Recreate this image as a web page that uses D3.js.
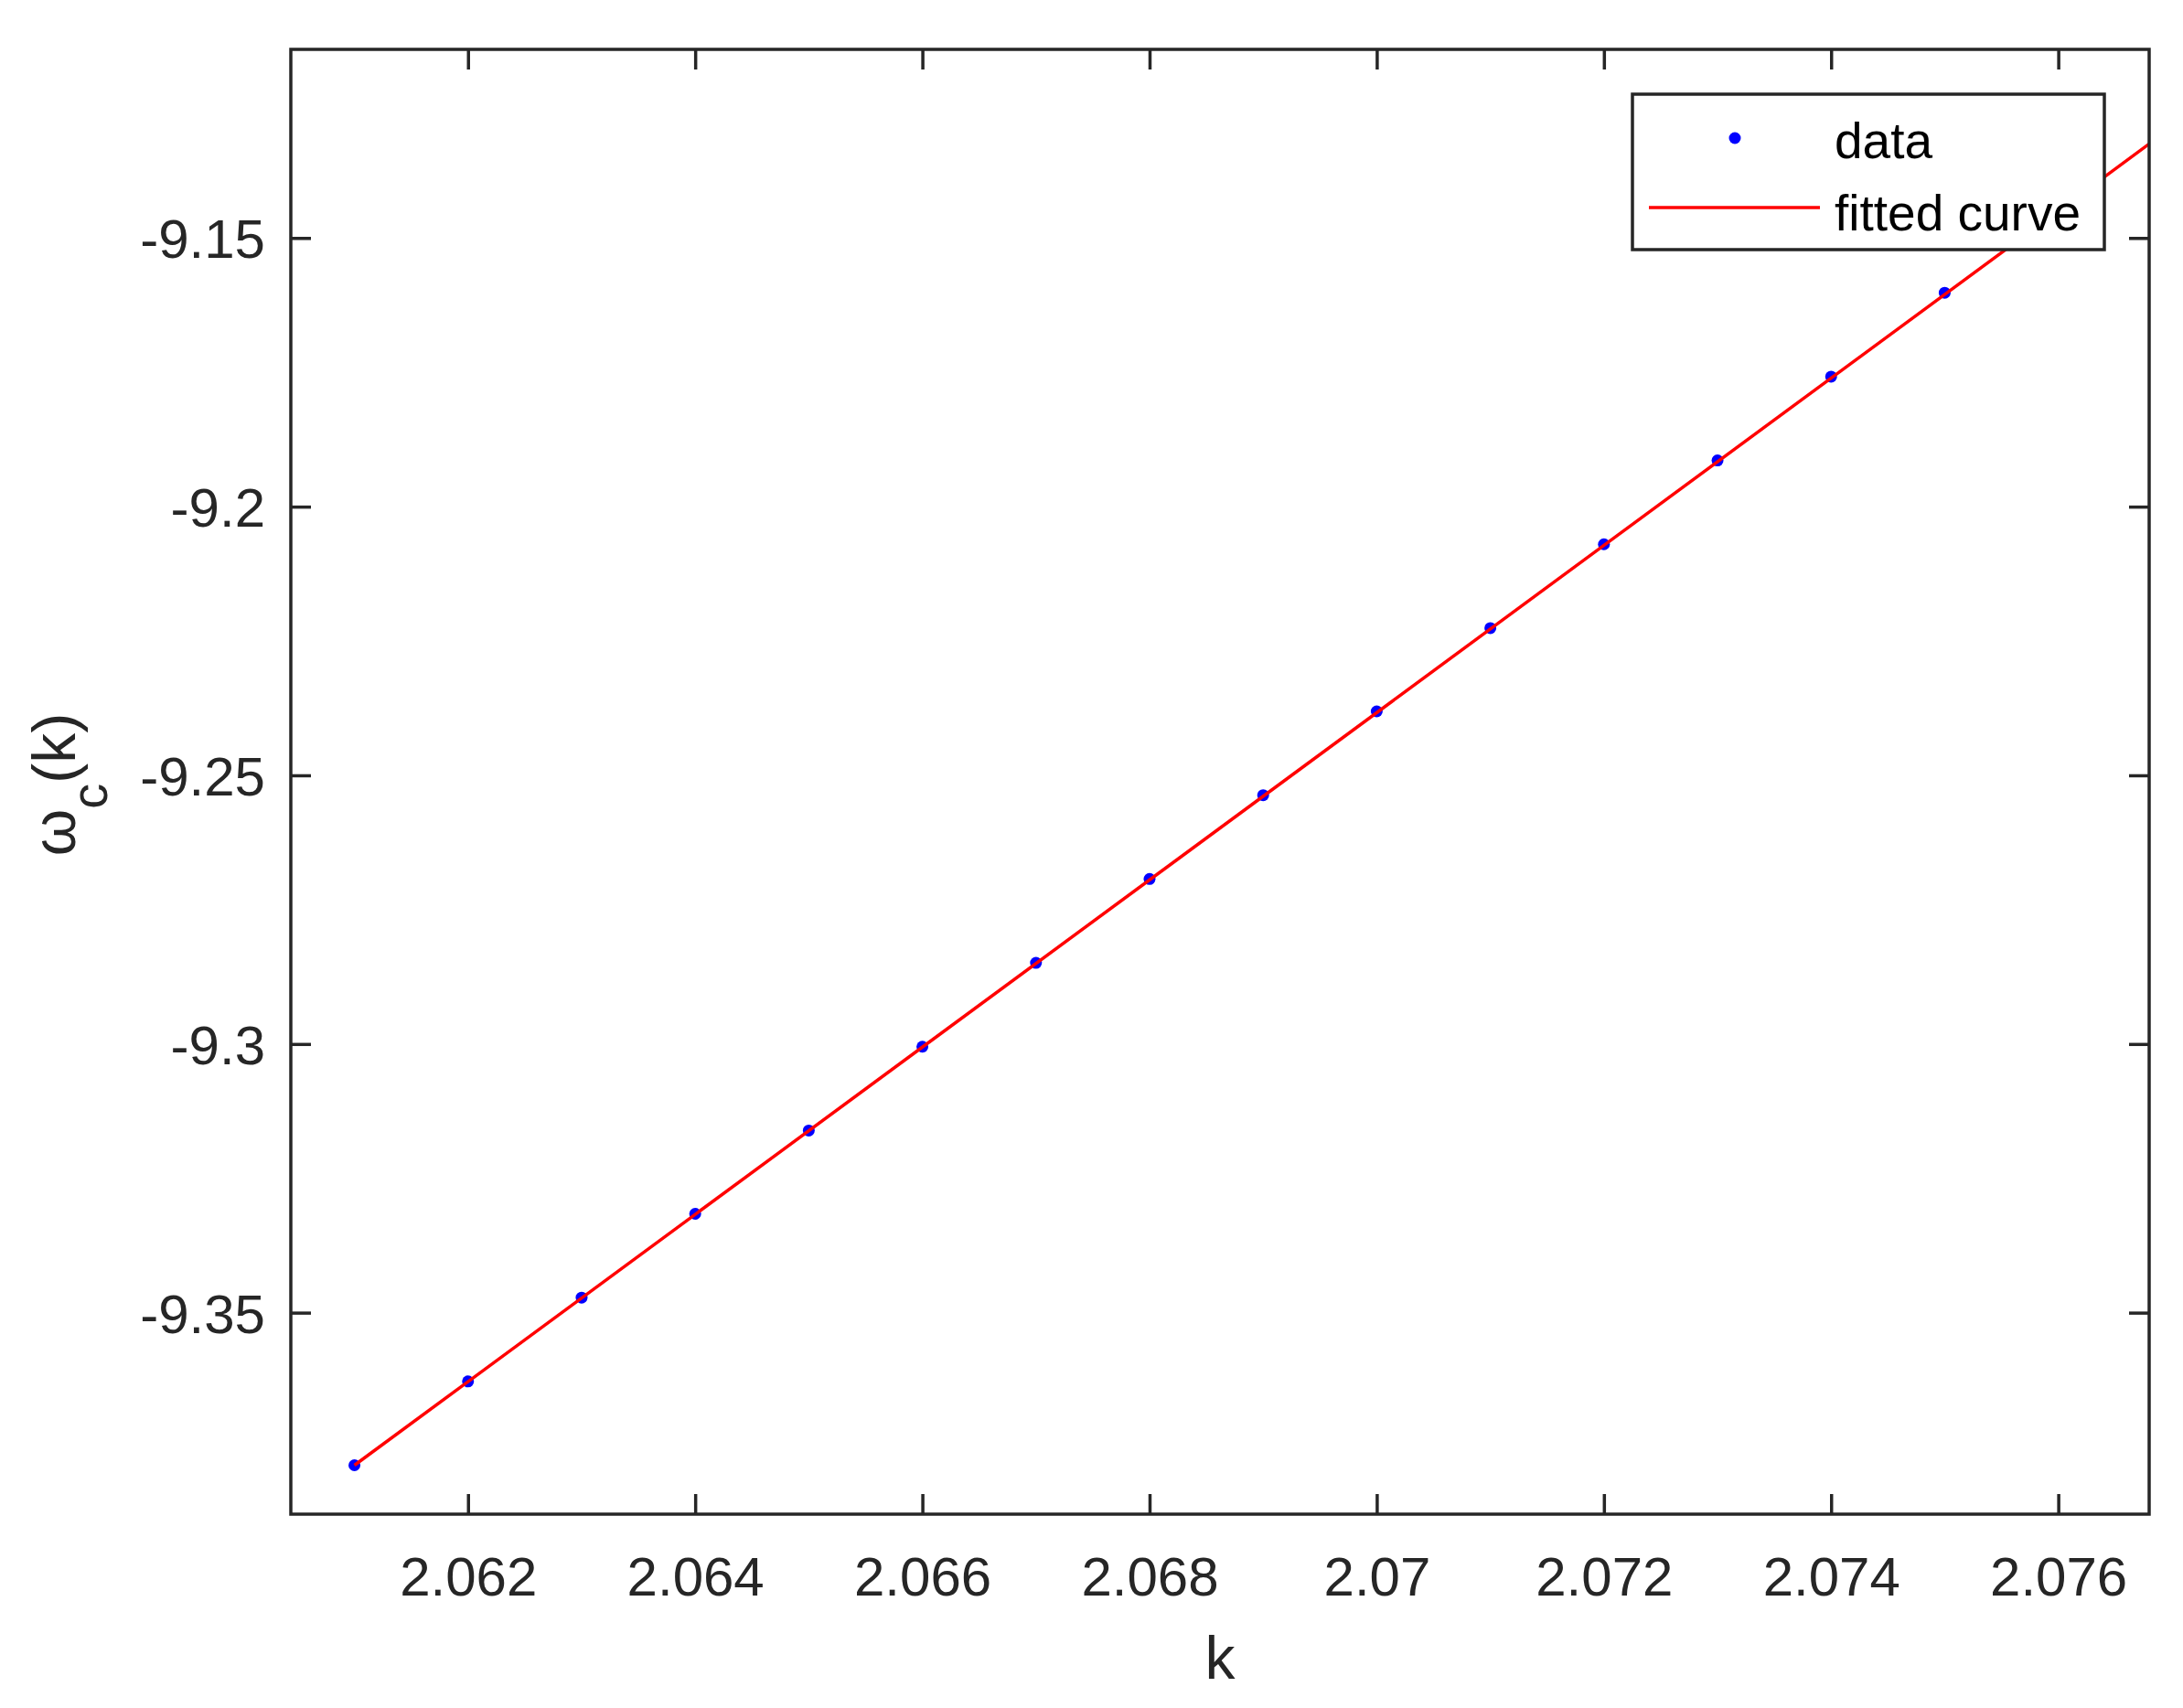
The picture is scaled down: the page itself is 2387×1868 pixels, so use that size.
<!DOCTYPE html>
<html>
<head>
<meta charset="utf-8">
<script src="https://cdn.jsdelivr.net/npm/d3@7"></script>
<style>
  body { margin: 0; background: #fff; }
  svg { display: block; font-family: "Liberation Sans", Arial, Helvetica, sans-serif; }
</style>
</head>
<body>
<div id="app"></div>
<script>
// data
const kValues = [2.061, 2.062, 2.063, 2.064, 2.065, 2.066, 2.067, 2.068,
                 2.069, 2.070, 2.071, 2.072, 2.073, 2.074, 2.075];
const omegaValues = [-9.3784, -9.3628, -9.3472, -9.3316, -9.3161, -9.3005, -9.2849, -9.2693,
                     -9.2537, -9.2381, -9.2226, -9.2070, -9.1914, -9.1758, -9.1602];
// fitted curve (straight line), end points
const fitK = [2.061, 2.0768];
const fitOmega = [-9.3784, -9.1325];

const xTicks = [2.062, 2.064, 2.066, 2.068, 2.070, 2.072, 2.074, 2.076];
const xTickLabels = ['2.062', '2.064', '2.066', '2.068', '2.07', '2.072', '2.074', '2.076'];
const yTicks = [-9.35, -9.3, -9.25, -9.2, -9.15];
const yTickLabels = ['-9.35', '-9.3', '-9.25', '-9.2', '-9.15'];
const legendLabels = ['data', 'fitted curve'];

const WIDTH = 2387, HEIGHT = 1868;
const axisColor = '#262626';

(() => {
  const svg = d3.select('#app').append('svg')
    .attr('width', WIDTH).attr('height', HEIGHT)
    .attr('viewBox', [0, 0, WIDTH, HEIGHT]);

  const x = d3.scaleLinear().domain([2.06044, 2.07680]).range([318, 2350]);
  const y = d3.scaleLinear().domain([-9.3875, -9.1149]).range([1656, 54]);

  const [x0, x1] = x.range();
  const [y0, y1] = y.range();

  svg.append('defs').append('clipPath').attr('id', 'clip')
    .append('rect').attr('x', x0).attr('y', y1).attr('width', x1 - x0).attr('height', y0 - y1);

  const fit = fitK.map((k, i) => [k, fitOmega[i]]);
  const line = d3.line().x(d => x(d[0])).y(d => y(d[1]));

  // data dots
  svg.append('g')
    .selectAll('circle')
    .data(kValues)
    .join('circle')
    .attr('cx', d => x(d))
    .attr('cy', (d, i) => y(omegaValues[i]))
    .attr('r', 6.5)
    .attr('fill', '#0000ff');

  // fitted line, on top of the dots
  svg.append('path')
    .datum(fit)
    .attr('clip-path', 'url(#clip)')
    .attr('fill', 'none')
    .attr('stroke', '#ff0000')
    .attr('stroke-width', 3.5)
    .attr('d', line);

  const tickLen = 22;
  const styleAxis = (g) => {
    g.select('.domain').remove();
    g.selectAll('line').attr('stroke', axisColor).attr('stroke-width', 3.5);
    g.selectAll('text').attr('fill', axisColor).attr('font-size', 60);
  };

  // bottom
  svg.append('g').attr('transform', `translate(0,${y0})`)
    .call(d3.axisBottom(x).tickValues(xTicks).tickSizeInner(-tickLen).tickSizeOuter(0)
      .tickPadding(0).tickFormat((d, i) => xTickLabels[i]))
    .call(styleAxis)
    .call(g => g.selectAll('text').attr('y', 89).attr('dy', null));
  // top
  svg.append('g').attr('transform', `translate(0,${y1})`)
    .call(d3.axisTop(x).tickValues(xTicks).tickSizeInner(-tickLen).tickSizeOuter(0).tickFormat(''))
    .call(styleAxis);
  // left
  svg.append('g').attr('transform', `translate(${x0},0)`)
    .call(d3.axisLeft(y).tickValues(yTicks).tickSizeInner(-tickLen).tickSizeOuter(0)
      .tickPadding(0).tickFormat((d, i) => yTickLabels[i]))
    .call(styleAxis)
    .call(g => g.selectAll('text').attr('x', -28).attr('dy', '0.36em'));
  // right
  svg.append('g').attr('transform', `translate(${x1},0)`)
    .call(d3.axisRight(y).tickValues(yTicks).tickSizeInner(-tickLen).tickSizeOuter(0).tickFormat(''))
    .call(styleAxis);

  // box
  svg.append('rect')
    .attr('x', x0).attr('y', y1).attr('width', x1 - x0).attr('height', y0 - y1)
    .attr('fill', 'none').attr('stroke', axisColor).attr('stroke-width', 3.5);

  // axis labels
  svg.append('text')
    .attr('x', (x0 + x1) / 2).attr('y', 1836)
    .attr('text-anchor', 'middle').attr('font-size', 66).attr('fill', axisColor)
    .text('k');

  const yl = svg.append('text')
    .attr('transform', 'translate(82,858) rotate(-90)')
    .attr('text-anchor', 'middle').attr('font-size', 66).attr('fill', axisColor);
  yl.append('tspan').text('ω');
  yl.append('tspan').attr('font-size', 56).attr('dy', 35).text('c');
  yl.append('tspan').attr('dy', -35).text('(k)');

  // legend
  const lg = svg.append('g');
  lg.append('rect')
    .attr('x', 1785).attr('y', 103).attr('width', 516).attr('height', 170)
    .attr('fill', '#fff').attr('stroke', axisColor).attr('stroke-width', 3.5);
  lg.append('circle').attr('cx', 1897).attr('cy', 151).attr('r', 6.5).attr('fill', '#0000ff');
  lg.append('line').attr('x1', 1803).attr('x2', 1990).attr('y1', 227).attr('y2', 227)
    .attr('stroke', '#ff0000').attr('stroke-width', 3.5);
  lg.selectAll('text.lbl')
    .data(legendLabels)
    .join('text')
    .attr('class', 'lbl')
    .attr('x', 2006)
    .attr('y', (d, i) => i === 0 ? 172.5 : 251.5)
    .attr('font-size', 55)
    .attr('fill', '#000')
    .text(d => d);
})();
</script>
</body>
</html>
